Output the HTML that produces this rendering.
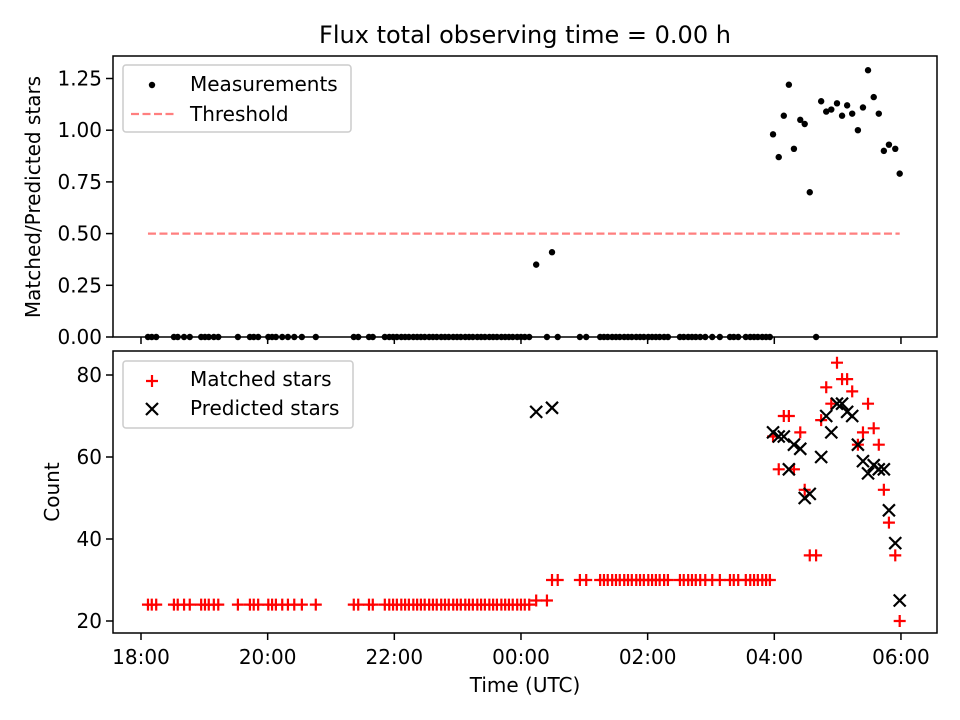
<!DOCTYPE html>
<html><head><meta charset="utf-8"><style>
body{margin:0;background:#fff}
svg{display:block;font-family:"DejaVu Sans","Liberation Sans",sans-serif}
</style></head><body>
<svg id="chart" width="960" height="720" viewBox="0 0 960 720">
<rect width="960" height="720" fill="#fff"/>
<text x="525" y="43" font-size="24" text-anchor="middle">Flux total observing time = 0.00 h</text>
<g id="topPanel"></g><g id="botPanel"></g>
</svg>
<script>
// hours since 18:00 UTC
const lowTimes=[0.11,0.17,0.24,0.52,0.58,0.68,0.77,0.95,1.01,1.07,1.15,1.22,1.53,1.72,1.78,1.85,2.01,2.07,2.13,2.23,2.32,2.42,2.54,2.76,3.36,3.43,3.60,3.66,3.85,3.92,3.98,4.04,4.11,4.17,4.23,4.30,4.36,4.42,4.48,4.55,4.61,4.67,4.74,4.80,4.86,4.93,4.99,5.05,5.12,5.18,5.24,5.31,5.37,5.43,5.50,5.56,5.62,5.69,5.75,5.81,5.87,5.94,6.00,6.06,6.13,6.41,6.58,6.93,7.03,7.25,7.31,7.37,7.44,7.50,7.56,7.63,7.69,7.75,7.82,7.88,7.94,8.01,8.07,8.13,8.19,8.26,8.32,8.51,8.57,8.64,8.70,8.76,8.83,8.91,9.02,9.14,9.30,9.36,9.43,9.55,9.62,9.68,9.74,9.81,9.87,9.93,10.66];
const lowMatched=[24,24,24,24,24,24,24,24,24,24,24,24,24,24,24,24,24,24,24,24,24,24,24,24,24,24,24,24,24,24,24,24,24,24,24,24,24,24,24,24,24,24,24,24,24,24,24,24,24,24,24,24,24,24,24,24,24,24,24,24,24,24,24,24,24,25,30,30,30,30,30,30,30,30,30,30,30,30,30,30,30,30,30,30,30,30,30,30,30,30,30,30,30,30,30,30,30,30,30,30,30,30,30,30,30,30,36];
const lowRatio=[0,0,0,0,0,0,0,0,0,0,0,0,0,0,0,0,0,0,0,0,0,0,0,0,0,0,0,0,0,0,0,0,0,0,0,0,0,0,0,0,0,0,0,0,0,0,0,0,0,0,0,0,0,0,0,0,0,0,0,0,0,0,0,0,0,0,0,0,0,0,0,0,0,0,0,0,0,0,0,0,0,0,0,0,0,0,0,0,0,0,0,0,0,0,0,0,0,0,0,0,0,0,0,0,0,0,0];
const obsTimes=[6.24,6.49,9.98,10.07,10.15,10.23,10.31,10.41,10.48,10.56,10.74,10.82,10.90,10.99,11.07,11.15,11.23,11.32,11.40,11.48,11.57,11.65,11.73,11.81,11.91,11.98];
const obsRatio=[0.35,0.41,0.98,0.87,1.07,1.22,0.91,1.05,1.03,0.70,1.14,1.09,1.10,1.13,1.07,1.12,1.08,1.00,1.11,1.29,1.16,1.08,0.90,0.93,0.91,0.79];
const obsMatched=[25,30,65,57,70,70,57,66,52,36,69,77,73,83,79,79,76,63,66,73,67,63,52,44,36,20];
const obsPredicted=[71,72,66,65,65,57,63,62,50,51,60,70,66,73,73,71,70,63,59,56,58,57,57,47,39,25];
const threshold=0.5;
const xTicks=[0,2,4,6,8,10,12];
const xTickLabels=["18:00","20:00","22:00","00:00","02:00","04:00","06:00"];
const topYTicks=[0,0.25,0.5,0.75,1.0,1.25];
const topYLabels=["0.00","0.25","0.50","0.75","1.00","1.25"];
const botYTicks=[20,40,60,80];

const NS="http://www.w3.org/2000/svg";
const FS=20;
const L=113,R=937,T1=56,B1=337,T2=351,B2=633;
const xs=h=>141+h*63.33;
const yTop=v=>337-v*206.8;
const yBot=v=>621-(v-20)*4.1;
function mk(p,tag,a,txt){const e=document.createElementNS(NS,tag);for(const k in a)e.setAttribute(k,a[k]);if(txt!=null)e.textContent=txt;p.appendChild(e);return e;}
const gTop=document.getElementById('topPanel'),gBot=document.getElementById('botPanel');

function axes(g,T,B,name){
  const f=mk(g,'rect',{x:L,y:T,width:R-L,height:B-T,fill:'none',stroke:'#000','stroke-width':1.5});
  
  
  xTicks.forEach((t,i)=>{
    const tk=mk(g,'line',{x1:xs(t),x2:xs(t),y1:B,y2:B+7,stroke:'#000','stroke-width':1.5});
    
    
  });
}
axes(gTop,T1,B1,'top');axes(gBot,T2,B2,'bottom');

topYTicks.forEach((v,i)=>{
  const tk=mk(gTop,'line',{x1:L-7,x2:L,y1:yTop(v),y2:yTop(v),stroke:'#000','stroke-width':1.5});
  
  
  const t=mk(gTop,'text',{x:L-11,y:yTop(v)+7,'font-size':FS,'text-anchor':'end'},topYLabels[i]);
  
  
});
botYTicks.forEach(v=>{
  const tk=mk(gBot,'line',{x1:L-7,x2:L,y1:yBot(v),y2:yBot(v),stroke:'#000','stroke-width':1.5});
  
  
  const t=mk(gBot,'text',{x:L-11,y:yBot(v)+7,'font-size':FS,'text-anchor':'end'},String(v));
  
  
});
xTicks.forEach((h,i)=>{
  const t=mk(gBot,'text',{x:xs(h),y:B2+31,'font-size':FS,'text-anchor':'middle'},xTickLabels[i]);
  
  
});
let t=mk(gBot,'text',{x:525,y:692,'font-size':FS,'text-anchor':'middle'},'Time (UTC)');


t=mk(gTop,'text',{x:0,y:0,'font-size':FS,'text-anchor':'middle',transform:'translate(40,197) rotate(-90)'},'Matched/Predicted stars');


t=mk(gBot,'text',{x:0,y:0,'font-size':FS,'text-anchor':'middle',transform:'translate(59,492) rotate(-90)'},'Count');



const allT=lowTimes.concat(obsTimes);
const tmin=Math.min(...allT),tmax=Math.max(...allT);
let ln=mk(gTop,'line',{x1:xs(tmin),x2:xs(tmax),y1:yTop(threshold),y2:yTop(threshold),stroke:'#ff7f7f','stroke-width':2.2,'stroke-dasharray':'8,3.5'});



function dot(h,v){
  const y=yTop(v); if(y>B1+4)return;
  const c=mk(gTop,'circle',{cx:xs(h),cy:y,r:3.2,fill:'#000'});
  
  
}
lowTimes.forEach((h,i)=>dot(h,lowRatio[i]));
obsTimes.forEach((h,i)=>dot(h,obsRatio[i]));

function plus(g,x,y,s){return mk(g,'path',{d:`M${x-s} ${y}H${x+s}M${x} ${y-s}V${y+s}`,stroke:'#f00','stroke-width':2.2,fill:'none'});}
function cross(g,x,y,s){return mk(g,'path',{d:`M${x-s} ${y-s}L${x+s} ${y+s}M${x-s} ${y+s}L${x+s} ${y-s}`,stroke:'#000','stroke-width':2.2,fill:'none'});}
lowTimes.forEach((h,i)=>{
  const p=plus(gBot,xs(h),yBot(lowMatched[i]),6);
  
  
});
obsTimes.forEach((h,i)=>{
  const p=plus(gBot,xs(h),yBot(obsMatched[i]),6);
  
  
});
obsTimes.forEach((h,i)=>{
  const p=cross(gBot,xs(h),yBot(obsPredicted[i]),6);
  
  
});

function legendBox(g,y,w,name){
  const r=mk(g,'rect',{x:123,y:y,width:w,height:67,rx:3,fill:'#fff','fill-opacity':0.8,stroke:'#ccc','stroke-width':1.5});
  
  
}
legendBox(gTop,65,228,'top-legend');
let c=mk(gTop,'circle',{cx:152,cy:85,r:3.2,fill:'#000'});


t=mk(gTop,'text',{x:190,y:91,'font-size':FS},'Measurements');


ln=mk(gTop,'line',{x1:131,x2:175,y1:114,y2:114,stroke:'#ff7f7f','stroke-width':2.2,'stroke-dasharray':'8,3.5'});


t=mk(gTop,'text',{x:190,y:121,'font-size':FS},'Threshold');



legendBox(gBot,361,230,'bottom-legend');
let p=plus(gBot,152,381,6);


t=mk(gBot,'text',{x:190,y:386,'font-size':FS},'Matched stars');


p=cross(gBot,152,409,6);


t=mk(gBot,'text',{x:190,y:415,'font-size':FS},'Predicted stars');


</script>
</body></html>
